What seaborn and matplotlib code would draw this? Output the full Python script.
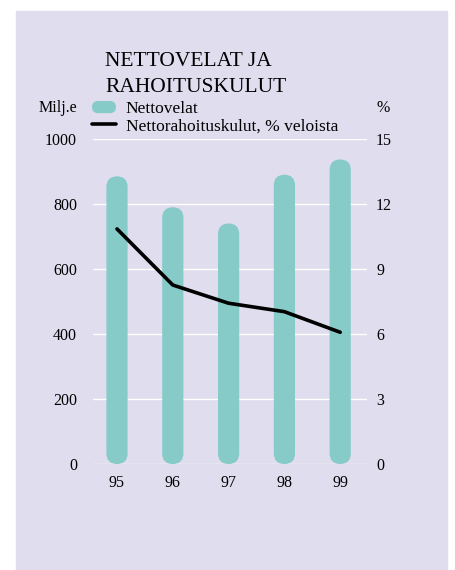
import matplotlib
matplotlib.use("Agg")
import matplotlib.pyplot as plt
import numpy as np
import seaborn as sns
from matplotlib.legend_handler import HandlerPatch
from matplotlib.lines import Line2D
from matplotlib.patches import FancyBboxPatch, Patch, Rectangle

# --- data ---
years = ["95", "96", "97", "98", "99"]
nettovelat = [885, 790, 740, 890, 937]          # Milj.e
rahoituskulut = [10.85, 8.26, 7.42, 7.03, 6.08]  # % veloista

left_ticks = [0, 200, 400, 600, 800, 1000]
right_ticks = [0, 3, 6, 9, 12, 15]

PANEL = "#e0ddee"
TEAL = "#87cbc8"

sns.set_style("white")
plt.rcParams["font.family"] = ["Liberation Serif", "DejaVu Serif"]
plt.rcParams["text.color"] = "black"
plt.rcParams["xtick.color"] = "black"
plt.rcParams["ytick.color"] = "black"

W, H = 456, 570
fig = plt.figure(figsize=(W / 100, H / 100), dpi=100)
fig.patch.set_facecolor("white")
fig.patches.append(Rectangle((16 / W, 0), (447 - 16) / W, (570 - 11) / H,
                             transform=fig.transFigure, color=PANEL, zorder=-5))

ax = fig.add_axes([93 / W, 106 / H, (367 - 93) / W, (464 - 139) / H])
ax.set_facecolor("none")

sns.barplot(x=years, y=nettovelat, color=TEAL, width=0.38, ax=ax, zorder=2)
ax.set_xlim(-0.43, 4.48)
ax.set_ylim(0, 1000)

# swap the flat bars for capsules (rounded at both ends)
bbox = ax.get_window_extent()
px_x = bbox.width / (ax.get_xlim()[1] - ax.get_xlim()[0])
px_y = bbox.height / (ax.get_ylim()[1] - ax.get_ylim()[0])
for p in list(ax.patches):
    x0, w, h = p.get_x(), p.get_width(), p.get_height()
    p.remove()
    ax.add_patch(FancyBboxPatch((x0, 0), w, h,
                                boxstyle=f"round,pad=0,rounding_size={w / 2}",
                                mutation_aspect=px_x / px_y,
                                facecolor=TEAL, edgecolor="none", zorder=2))

ax.set_yticks(left_ticks)
ax.grid(axis="y", color="white", lw=1.0, zorder=1)
ax.grid(axis="x", visible=False)
ax.tick_params(axis="y", length=0, pad=11.5, labelsize=11.5)
ax.tick_params(axis="x", length=0, pad=8, labelsize=11.5)
ax.set_xlabel("")
ax.set_ylabel("")
sns.despine(ax=ax, left=True, bottom=True)

ax2 = ax.twinx()
sns.lineplot(x=np.arange(len(years)), y=rahoituskulut, ax=ax2,
             color="black", lw=2.6, zorder=3)
ax2.set_ylim(0, 15)
ax2.set_yticks(right_ticks)
ax2.tick_params(axis="y", length=0, pad=6.5, labelsize=11.5)
ax2.set_ylabel("")
for s in ax2.spines.values():
    s.set_visible(False)
ax2.grid(False)

# titles / units
fig.text(105 / W, 1 - 66 / H, "NETTOVELAT JA", fontsize=15.5,
         va="baseline", ha="left")
fig.text(105 / W, 1 - 92 / H, "RAHOITUSKULUT", fontsize=15.5,
         va="baseline", ha="left")
fig.text(77 / W, 1 - 108 / H, "Milj.e", fontsize=11.5, ha="right", va="center")
fig.text(377 / W, 1 - 108 / H, "%", fontsize=11.5, ha="left", va="center")


def capsule(legend, orig_handle, xdescent, ydescent, width, height, fontsize):
    return FancyBboxPatch((-xdescent, -ydescent), width, height,
                          boxstyle=f"round,pad=0,rounding_size={height / 2}")


handles = [
    Patch(facecolor=TEAL, edgecolor="none"),
    Line2D([0], [0], color="black", lw=2.6),
]
fig.legend(handles, ["Nettovelat", "Nettorahoituskulut, % veloista"],
           handler_map={Patch: HandlerPatch(patch_func=capsule)},
           loc="upper left", bbox_to_anchor=(92 / W, 1 - 101 / H),
           frameon=False, fontsize=12.5, handlelength=1.38, handleheight=0.7,
           handletextpad=0.55, labelspacing=0.05, borderpad=0, borderaxespad=0)

fig.savefig("out.png", dpi=100, facecolor=fig.get_facecolor())
